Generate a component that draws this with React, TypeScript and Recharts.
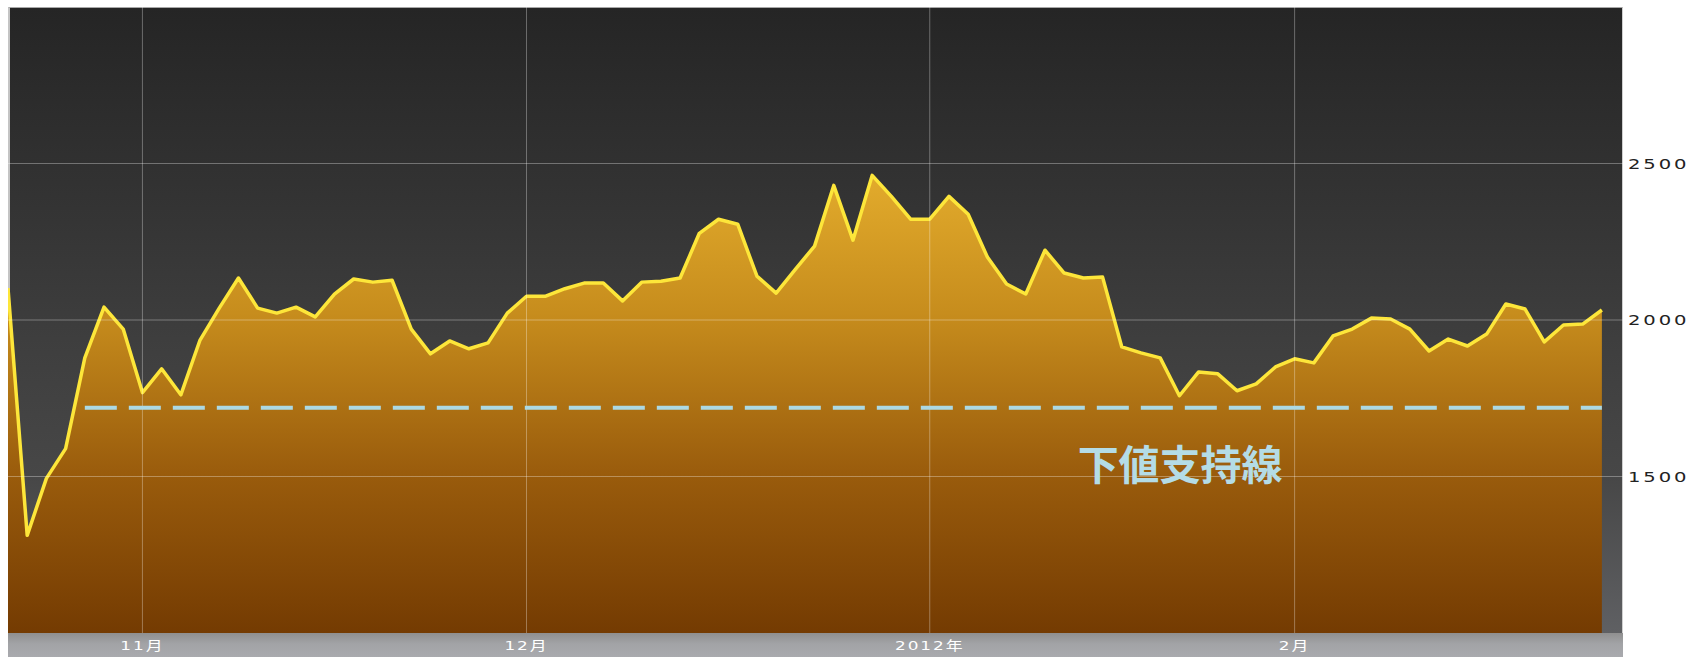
import React from 'react';
import { ComposedChart, Area, XAxis, YAxis, ReferenceLine } from 'recharts';

// daily closes, late Oct 2011 .. end of Feb 2012
const prices = [
  2102, 1312, 1494, 1589, 1879, 2041, 1971, 1768, 1844, 1761,
  1936, 2038, 2134, 2038, 2022, 2041, 2010, 2083, 2131, 2121,
  2127, 1971, 1892, 1933, 1908, 1927, 2022, 2076, 2076, 2100,
  2118, 2118, 2061, 2121, 2124, 2134, 2277, 2322, 2306, 2140,
  2086, 2162, 2236, 2430, 2255, 2462, 2395, 2322, 2322, 2395,
  2338, 2201, 2115, 2083, 2223, 2150, 2134, 2137, 1914, 1895,
  1879, 1758, 1834, 1828, 1774, 1796, 1850, 1876, 1863, 1949,
  1971, 2006, 2003, 1971, 1901, 1939, 1917, 1955, 2051, 2035,
  1930, 1984, 1987, 2032,
];

const monthTicks = [7, 27, 48, 67];
const monthLabels = ['11月', '12月', '2012年', '2月'];
const priceTicks = [1500, 2000, 2500];

const supportLevel = 1720;
const supportFrom = 4;
const supportTo = 83;
const supportLabel = '下値支持線';

const data = prices.map((price, i) => ({ i, price }));

const W = 1691;
const H = 657;
const M = { top: 7, right: 0, bottom: 0, left: 8 };
const AXIS_H = 24;
const AXIS_W = 68;
const GRID = 'rgba(255,255,255,0.32)';

const MonthTick = (props: any) => {
  const { x, y, payload } = props;
  const idx = monthTicks.indexOf(payload.value);
  return (
    <text
      transform={`translate(${x},${y + 17}) scale(1.3,1)`}
      textAnchor="middle"
      fill="#ffffff"
      fontSize={13}
      letterSpacing={1.5}
      fontFamily="'DejaVu Sans', 'Noto Sans CJK JP', sans-serif"
    >
      {idx >= 0 ? monthLabels[idx] : ''}
    </text>
  );
};

const PriceTick = (props: any) => {
  const { x, y, payload } = props;
  return (
    <text
      transform={`translate(${x},${y + 5}) scale(1.45,1)`}
      textAnchor="start"
      fill="#222"
      fontSize={13.5}
      letterSpacing={2}
      fontFamily="'DejaVu Sans', sans-serif"
    >
      {payload.value}
    </text>
  );
};

const SupportLabel = (props: any) => {
  const vb = props.viewBox || {};
  return (
    <text
      x={vb.x + vb.width * 0.722}
      y={vb.y + 72}
      textAnchor="middle"
      fill="#b4dce6"
      fontSize={41}
      fontWeight="bold"
      fontFamily="'Noto Sans CJK JP', sans-serif"
    >
      {supportLabel}
    </text>
  );
};

export default function App() {
  const plotW = W - M.left - AXIS_W;
  const plotH = H - M.top - AXIS_H;
  return (
    <div style={{ position: 'absolute', left: 0, top: 0, width: W, height: H, background: '#fff' }}>
      <div
        style={{
          position: 'absolute',
          left: M.left,
          top: M.top,
          width: plotW,
          height: plotH,
          boxSizing: 'border-box',
          borderLeft: '2px solid #c4c4c4',
          borderTop: '1px solid #a8a8a8',
          borderRight: '1px solid #cfcfcf',
          background: 'linear-gradient(#252525 0%, #333333 30%, #3f3f3f 55%, #474747 75%, #5f6063 100%)',
        }}
      />
      <div
        style={{
          position: 'absolute',
          left: M.left,
          top: M.top + plotH,
          width: plotW,
          height: AXIS_H,
          background: 'linear-gradient(#8f8f8f 0%, #a2a3a6 45%, #a9aaae 100%)',
        }}
      />
      <div style={{ position: 'absolute', left: 0, top: 0 }}>
        <ComposedChart width={W} height={H} data={data} margin={M}>
          <defs>
            <linearGradient id="goldFill" x1="0" y1="0" x2="0" y2="1">
              <stop offset="0%" stopColor="#e2ab2c" />
              <stop offset="30%" stopColor="#c78d1d" />
              <stop offset="65%" stopColor="#9a5c0c" />
              <stop offset="100%" stopColor="#743b02" />
            </linearGradient>
          </defs>
          <XAxis
            dataKey="i"
            type="number"
            domain={[0, 84.1]}
            ticks={monthTicks}
            height={AXIS_H}
            axisLine={false}
            tickLine={false}
            tickSize={0}
            tickMargin={0}
            interval={0}
            tick={<MonthTick />}
            allowDataOverflow
          />
          <YAxis
            orientation="right"
            type="number"
            domain={[1000, 3000]}
            ticks={priceTicks}
            width={AXIS_W}
            axisLine={false}
            tickLine={false}
            tickSize={0}
            tickMargin={5}
            interval={0}
            tick={<PriceTick />}
            allowDataOverflow
          />
          <Area
            type="linear"
            dataKey="price"
            stroke="#fde63a"
            strokeWidth={3.5}
            strokeLinejoin="round"
            fill="url(#goldFill)"
            fillOpacity={1}
            dot={false}
            activeDot={false}
            isAnimationActive={false}
          />
          {priceTicks.map((v) => (
            <ReferenceLine key={`h${v}`} y={v} stroke={GRID} strokeWidth={1} />
          ))}
          {monthTicks.map((v) => (
            <ReferenceLine key={`v${v}`} x={v} stroke={GRID} strokeWidth={1} />
          ))}
          <ReferenceLine
            segment={[
              { x: supportFrom, y: supportLevel },
              { x: supportTo, y: supportLevel },
            ]}
            stroke="#acd9e4"
            strokeWidth={4}
            strokeDasharray="32 12"
            label={<SupportLabel />}
          />
        </ComposedChart>
      </div>
    </div>
  );
}
